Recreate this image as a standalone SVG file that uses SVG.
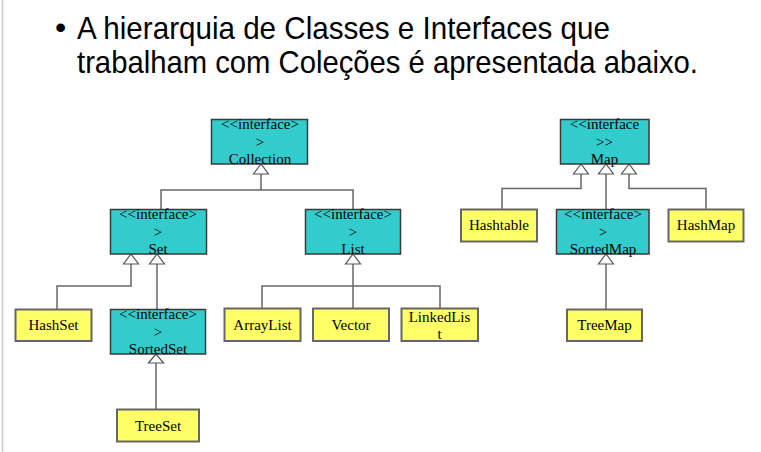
<svg xmlns="http://www.w3.org/2000/svg" width="761" height="452" viewBox="0 0 761 452">
<defs>
<style>
.title{font-family:"Liberation Sans",Arial,sans-serif;font-size:32px;fill:#000}
.t{font-family:"Liberation Serif","Times New Roman",serif;font-size:15px;fill:#000;text-anchor:middle}
.iface{fill:#33CCCC;stroke:#3a3a3a;stroke-width:1.5}
.cls{fill:#FFFF66;stroke:#666;stroke-width:2}
.ln{fill:none;stroke:#666;stroke-width:1.5}
.tri{fill:#fff;stroke:#555;stroke-width:1.2}
</style>
</defs>
<rect x="0" y="0" width="761" height="452" fill="#fff"/>
<line x1="2.5" y1="0" x2="2.5" y2="452" stroke="#c8c8c8" stroke-width="1.5"/>
<g id="title">
<text class="title" x="55" y="38">•</text>
<text class="title" x="77" y="39" textLength="533" lengthAdjust="spacingAndGlyphs">A hierarquia de Classes e Interfaces que</text>
<text class="title" x="77" y="73" textLength="621" lengthAdjust="spacingAndGlyphs">trabalham com Coleções é apresentada abaixo.</text>
</g>
<g id="connectors">
<polyline class="ln" points="261,174 261,190"/>
<polyline class="ln" points="161,209 161,190 353,190 353,209"/>
<polyline class="ln" points="131,264 131,286 57,286 57,309"/>
<polyline class="ln" points="157,264 157,309"/>
<polyline class="ln" points="156,363 156,409"/>
<polyline class="ln" points="353,264 353,308"/>
<polyline class="ln" points="262,308 262,286 440,286 440,308"/>
<polyline class="ln" points="581,174 581,188.5 502,188.5 502,209"/>
<polyline class="ln" points="606,174 606,209"/>
<polyline class="ln" points="629,174 629,188.5 706,188.5 706,209"/>
<polyline class="ln" points="606,264 606,309"/>
<polygon class="tri" points="261,164 253.5,174 268.5,174"/>
<polygon class="tri" points="131,254 123.5,264 138.5,264"/>
<polygon class="tri" points="157,254 149.5,264 164.5,264"/>
<polygon class="tri" points="156,354 148.5,363 163.5,363"/>
<polygon class="tri" points="353,254 345.5,264 360.5,264"/>
<polygon class="tri" points="581,164 573.5,174 588.5,174"/>
<polygon class="tri" points="606,164 598.5,174 613.5,174"/>
<polygon class="tri" points="629,164 621.5,174 636.5,174"/>
<polygon class="tri" points="606,254 598.5,264 613.5,264"/>
</g>
<g id="Collection">
<rect class="iface" x="211.5" y="119.5" width="96" height="44.5"/>
<text class="t" x="260" y="129">&lt;&lt;interface&gt;</text>
<text class="t" x="260" y="146.5">&gt;</text>
<text class="t" x="260" y="164">Collection</text>
</g>
<g id="Set">
<rect class="iface" x="110.5" y="209.5" width="96" height="44.5"/>
<text class="t" x="158" y="219">&lt;&lt;interface&gt;</text>
<text class="t" x="158" y="236.5">&gt;</text>
<text class="t" x="158" y="254">Set</text>
</g>
<g id="List">
<rect class="iface" x="305.5" y="209.5" width="95" height="44.5"/>
<text class="t" x="353" y="219">&lt;&lt;interface&gt;</text>
<text class="t" x="353" y="236.5">&gt;</text>
<text class="t" x="353" y="254">List</text>
</g>
<g id="SortedSet">
<rect class="iface" x="110.5" y="309.5" width="95" height="44.5"/>
<text class="t" x="158" y="319">&lt;&lt;interface&gt;</text>
<text class="t" x="158" y="336.5">&gt;</text>
<text class="t" x="158" y="354">SortedSet</text>
</g>
<g id="HashSet">
<rect class="cls" x="15.5" y="309.5" width="76" height="31.5"/>
<text class="t" x="53.5" y="330">HashSet</text>
</g>
<g id="TreeSet">
<rect class="cls" x="117" y="409.5" width="82" height="32"/>
<text class="t" x="158" y="430.5">TreeSet</text>
</g>
<g id="ArrayList">
<rect class="cls" x="224.5" y="308.5" width="76" height="32.5"/>
<text class="t" x="262.5" y="330">ArrayList</text>
</g>
<g id="Vector">
<rect class="cls" x="313" y="308.5" width="76" height="32.5"/>
<text class="t" x="351" y="330">Vector</text>
</g>
<g id="LinkedList">
<rect class="cls" x="401.5" y="308.5" width="76.5" height="32.5"/>
<text class="t" x="439.5" y="321.5">LinkedLis</text>
<text class="t" x="439.5" y="338.5">t</text>
</g>
<g id="Map">
<rect class="iface" x="560.5" y="119.5" width="88.5" height="44.5"/>
<text class="t" x="604.5" y="129">&lt;&lt;interface</text>
<text class="t" x="604.5" y="146.5">&gt;&gt;</text>
<text class="t" x="604.5" y="164">Map</text>
</g>
<g id="Hashtable">
<rect class="cls" x="461" y="209.5" width="76" height="32"/>
<text class="t" x="499" y="230">Hashtable</text>
</g>
<g id="SortedMap">
<rect class="iface" x="556.5" y="209.5" width="92.5" height="44.5"/>
<text class="t" x="603" y="219">&lt;&lt;interface&gt;</text>
<text class="t" x="603" y="236.5">&gt;</text>
<text class="t" x="603" y="254">SortedMap</text>
</g>
<g id="HashMap">
<rect class="cls" x="668.5" y="209.5" width="75" height="32"/>
<text class="t" x="706" y="230">HashMap</text>
</g>
<g id="TreeMap">
<rect class="cls" x="567" y="309.5" width="75" height="31.5"/>
<text class="t" x="604.5" y="330">TreeMap</text>
</g>
</svg>
